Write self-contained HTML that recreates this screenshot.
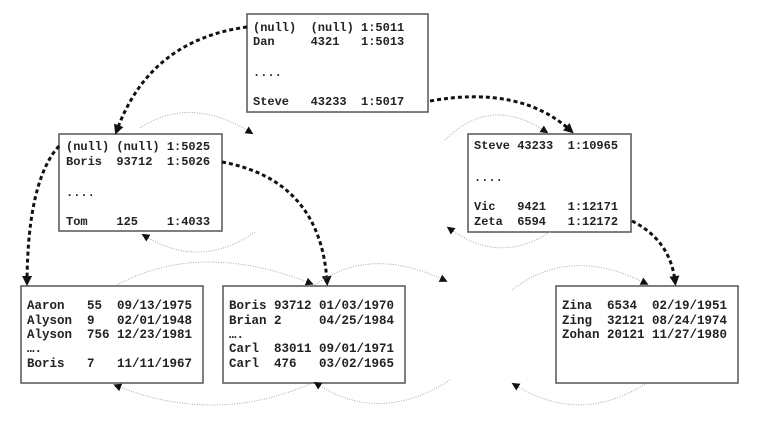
<!DOCTYPE html>
<html><head><meta charset="utf-8"><style>
body{margin:0;background:#fff;}
svg{display:block;}
.b{font-family:"Liberation Mono",monospace;font-weight:bold;font-size:12px;fill:#222;}
.l{font-family:"Liberation Mono",monospace;font-weight:bold;font-size:12.5px;fill:#222;}
</style></head><body>
<svg width="760" height="432" viewBox="0 0 760 432" xmlns="http://www.w3.org/2000/svg">
<defs>
<marker id="ab" markerWidth="10" markerHeight="10" refX="5" refY="5" orient="auto" markerUnits="userSpaceOnUse"><path d="M0,0 L10,5 L0,10 z" fill="#111"/></marker>
<marker id="ag" markerWidth="8" markerHeight="8" refX="4" refY="4" orient="auto" markerUnits="userSpaceOnUse"><path d="M0,0 L8,4 L0,8 z" fill="#111"/></marker>
</defs>
<g fill="#fff" stroke="#555" stroke-width="1.5">
<rect x="247" y="14" width="181" height="98"/>
<rect x="59" y="134" width="163" height="97"/>
<rect x="468" y="134" width="163" height="98"/>
<rect x="21" y="286" width="182" height="97"/>
<rect x="223" y="286" width="182" height="97"/>
<rect x="556" y="286" width="182" height="97"/>
</g>
<g fill="none" stroke="#111" stroke-width="3" stroke-dasharray="4,3" marker-end="url(#ab)">
<path d="M247,27 Q150,40 117,130"/>
<path d="M430,101 Q520,85 570,130"/>
<path d="M222,162 Q320,180 327,281"/>
<path d="M59,146 Q28,180 27,281"/>
<path d="M632,221 Q670,240 675,281"/>
</g>
<g fill="none" stroke="#aaa" stroke-width="1" stroke-dasharray="1,1.5" marker-end="url(#ag)">
<path d="M140,128 Q190,95 250,132"/>
<path d="M255,232 Q200,270 145,236"/>
<path d="M445,140 Q490,95 545,131"/>
<path d="M550,232 Q500,265 450,229"/>
<path d="M117,285 Q200,240 310,283"/>
<path d="M315,285 Q370,245 444,280"/>
<path d="M512,290 Q570,245 645,283"/>
<path d="M310,384 Q215,425 117,386"/>
<path d="M450,380 Q380,425 317,384"/>
<path d="M645,384 Q580,425 515,385"/>
</g>
<g class="b">
<text x="253" y="31" xml:space="preserve">(null)  (null) 1:5011</text>
<text x="253" y="45" xml:space="preserve">Dan     4321   1:5013</text>
<text x="253" y="76">....</text>
<text x="253" y="105" xml:space="preserve">Steve   43233  1:5017</text>
<text x="66" y="150" xml:space="preserve">(null) (null) 1:5025</text>
<text x="66" y="165" xml:space="preserve">Boris  93712  1:5026</text>
<text x="66" y="196">....</text>
<text x="66" y="225" xml:space="preserve">Tom    125    1:4033</text>
<text x="474" y="149" xml:space="preserve">Steve 43233  1:10965</text>
<text x="474" y="181">....</text>
<text x="474" y="210" xml:space="preserve">Vic   9421   1:12171</text>
<text x="474" y="225" xml:space="preserve">Zeta  6594   1:12172</text>
</g>
<g class="l">
<text x="27" y="309" xml:space="preserve">Aaron   55  09/13/1975</text>
<text x="27" y="324" xml:space="preserve">Alyson  9   02/01/1948</text>
<text x="27" y="338" xml:space="preserve">Alyson  756 12/23/1981</text>
<text x="27" y="352">….</text>
<text x="27" y="367" xml:space="preserve">Boris   7   11/11/1967</text>
<text x="229" y="309" xml:space="preserve">Boris 93712 01/03/1970</text>
<text x="229" y="324" xml:space="preserve">Brian 2     04/25/1984</text>
<text x="229" y="338">….</text>
<text x="229" y="352" xml:space="preserve">Carl  83011 09/01/1971</text>
<text x="229" y="367" xml:space="preserve">Carl  476   03/02/1965</text>
<text x="562" y="309" xml:space="preserve">Zina  6534  02/19/1951</text>
<text x="562" y="324" xml:space="preserve">Zing  32121 08/24/1974</text>
<text x="562" y="338" xml:space="preserve">Zohan 20121 11/27/1980</text>
</g>
</svg>
</body></html>
